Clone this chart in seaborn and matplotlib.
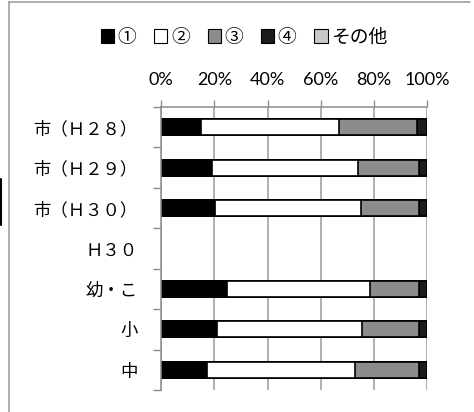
import numpy as np
import pandas as pd
import matplotlib
matplotlib.use('Agg')
import matplotlib.pyplot as plt
import seaborn as sns
from matplotlib.patches import Patch
from matplotlib.lines import Line2D

# data (percent)
categories = ['市（Ｈ２８）', '市（Ｈ２９）', '市（Ｈ３０）', 'Ｈ３０', '幼・こ', '小', '中']
v1 = [15.0, 19.2, 20.2, np.nan, 24.7, 21.0, 17.3]
v2 = [52.0, 54.7, 55.0, np.nan, 53.7, 54.5, 55.6]
v3 = [29.1, 22.9, 21.6, np.nan, 18.6, 21.3, 23.9]
v4 = [3.9, 3.2, 3.2, np.nan, 3.0, 3.2, 3.2]
v5 = [0.0, 0.0, 0.0, np.nan, 0.0, 0.0, 0.0]
series = ['①', '②', '③', '④', 'その他']
colors = ['#000000', '#ffffff', '#8c8c8c', '#1c1c1c', '#c8c8c8']
xticks = [0, 20, 40, 60, 80, 100]

df = pd.DataFrame({'cat': categories, '①': v1, '②': v2, '③': v3, '④': v4, 'その他': v5})
cum = df[series].cumsum(axis=1)

sns.set_theme(style='white')
plt.rcParams['font.family'] = ['Noto Sans CJK JP', 'DejaVu Sans']
plt.rcParams['text.color'] = 'black'
plt.rcParams['xtick.labelcolor'] = 'black'
plt.rcParams['ytick.labelcolor'] = 'black'

fig = plt.figure(figsize=(4.74, 4.12), dpi=100)
ax = fig.add_axes([0.3397, 0.0534, 0.5618, 0.6869])

# draw from the total down so each layer sits on top of the next
for s, c in reversed(list(zip(series, colors))):
    sns.barplot(x=cum[s], y=df['cat'], orient='h', color=c, ax=ax,
                width=0.4, edgecolor='black', linewidth=1.2, saturation=1)

ax.set_xlim(0, 100)
ax.set_xlabel('')
ax.set_ylabel('')
ax.xaxis.tick_top()
ax.set_xticks(xticks)
ax.set_xticklabels([f'{t}%' for t in xticks], family='Lato', fontsize=13)
ax.tick_params(axis='x', top=True, length=5, width=1, color='#8c8c8c', pad=9)
ax.grid(axis='x', color='#9a9a9a', linewidth=1.1)
ax.set_axisbelow(True)

n = len(categories)
ax.set_yticks(np.arange(-0.5, n, 1.0), minor=True)
ax.tick_params(axis='y', which='minor', left=True, length=6, width=1, color='#8c8c8c')
ax.tick_params(axis='y', which='major', left=False, length=0, pad=17, labelsize=12.5)
ax.set_ylim(n - 0.5, -0.5)

for side in ['right', 'bottom']:
    ax.spines[side].set_visible(False)
for side in ['top', 'left']:
    ax.spines[side].set_color('#8c8c8c')
    ax.spines[side].set_linewidth(1.1)

handles = [Patch(facecolor=c, edgecolor='black', linewidth=0.8) for c in colors]
fig.legend(handles, series, loc='center', bbox_to_anchor=(0.515, 1 - 37 / 412), ncol=5,
           frameon=False, fontsize=13.5, handlelength=0.7, handleheight=0.7,
           handletextpad=0.2, columnspacing=0.95)

# outer frame bits
fig.add_artist(Line2D([9 / 474, 9 / 474], [0, 1 - 2 / 412], color='#a0a0a0', lw=1.2,
                      transform=fig.transFigure))
fig.add_artist(Line2D([9 / 474, 470 / 474], [1 - 2 / 412, 1 - 2 / 412], color='#a0a0a0', lw=1.2,
                      transform=fig.transFigure))
fig.add_artist(Line2D([1 / 474, 1 / 474], [1 - 179 / 412, 1 - 225 / 412], color='black', lw=1.5,
                      transform=fig.transFigure))

fig.savefig('out.png', dpi=100)
